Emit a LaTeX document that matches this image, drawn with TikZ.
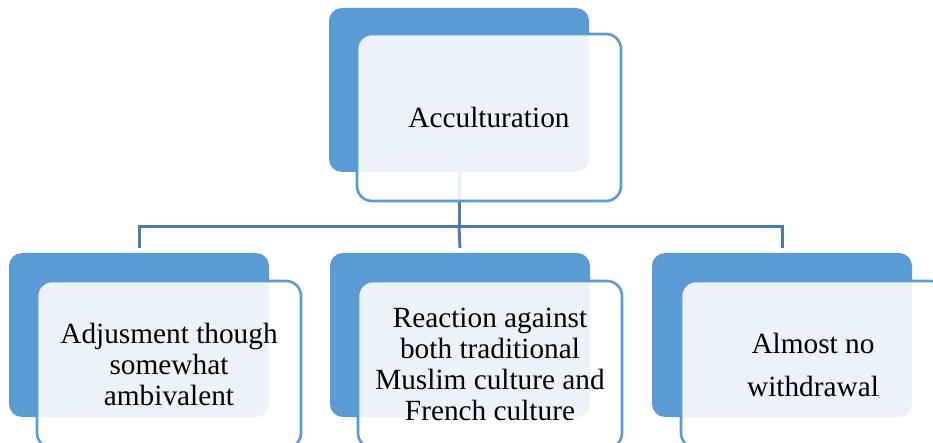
\documentclass[tikz,border=0pt]{standalone}
\usepackage{fontspec}
\setmainfont{Liberation Serif}
\definecolor{accblue}{HTML}{5B9BD5}
\definecolor{linkblue}{HTML}{4A7CAE}
\tikzset{
  backbox/.style={fill=accblue, rounded corners=13pt, minimum width=260pt, minimum height=164pt, inner sep=0pt, outer sep=0pt, anchor=north west},
  frontbox/.style={draw=accblue, line width=2.6pt, fill=white, fill opacity=0.88, text opacity=1, rounded corners=15pt, minimum width=264pt, minimum height=167pt, outer sep=0pt, anchor=north west, align=center, font=\rmfamily\fontsize{29.3}{31}\selectfont},
  link/.style={draw=linkblue, line width=3pt}
}
\begin{document}
\begin{tikzpicture}[x=1pt, y=-1pt]
\useasboundingbox[fill=white] (0,0) rectangle (933,443);
\node[backbox] (accb) at (329,8) {};
\node[backbox] (adjb) at (9,253) {};
\node[backbox] (reab) at (330,253) {};
\node[backbox] (wdrb) at (652,253) {};
\coordinate (bus) at (459,227);
\draw[link] (accb.south) -- (bus);
\draw[link] (bus) -| ([yshift=5pt]adjb.north);
\draw[link] (bus) -- ([yshift=5pt]reab.north);
\draw[link] (bus) -| ([yshift=5pt]wdrb.north);
\node[frontbox] (acc) at (357,34) {Acculturation};
\node[frontbox] (adj) at (37,281) {Adjusment though\\somewhat\\ambivalent};
\node[frontbox] (rea) at (358,281) {Reaction against\\both traditional\\Muslim culture and\\French culture};
\node[frontbox] (wdr) at (681,281) {Almost no\\[12pt]withdrawal};
\end{tikzpicture}
\end{document}
